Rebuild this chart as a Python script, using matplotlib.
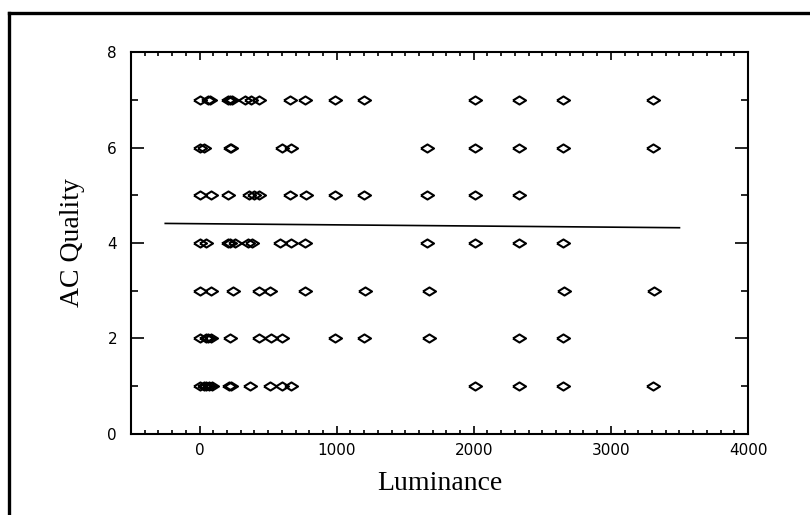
import numpy as np
import matplotlib
matplotlib.use('Agg')
import matplotlib.pyplot as plt
from matplotlib.lines import Line2D
from matplotlib.ticker import MultipleLocator

# Luminance values, one list per AC quality rating
lum_q7 = [0, 60, 75, 210, 225, 235, 335, 375, 430, 660, 770, 990, 1200, 2010, 2330, 2650, 3310]
lum_q6 = [0, 35, 220, 232, 600, 670, 1660, 2010, 2330, 2650, 3310]
lum_q5 = [0, 80, 210, 360, 395, 430, 660, 780, 990, 1200, 1660, 2010, 2330]
lum_q4 = [0, 45, 205, 225, 262, 350, 385, 590, 670, 770, 1660, 2010, 2330, 2650]
lum_q3 = [0, 80, 245, 430, 517, 772, 1204, 1670, 2655, 3315]
lum_q2 = [0, 45, 65, 80, 225, 430, 520, 600, 990, 1200, 1670, 2330, 2650]
lum_q1 = [0, 30, 50, 70, 90, 215, 232, 370, 517, 600, 670, 2010, 2330, 2650, 3310]

quality = [7, 6, 5, 4, 3, 2, 1]
lum_rows = [lum_q7, lum_q6, lum_q5, lum_q4, lum_q3, lum_q2, lum_q1]

# fitted line (nearly flat)
fit_x = [-250, 3500]
fit_y = [4.41, 4.32]

fig = plt.figure(figsize=(8.1, 5.15), dpi=100)
ax = fig.add_axes([0.1617, 0.1573, 0.7618, 0.7417])

# wide, flat open diamond
diamond = [(-1, 0), (0, 0.62), (1, 0), (0, -0.62), (-1, 0)]

for q, lums in zip(quality, lum_rows):
    ax.plot(lums, [q] * len(lums), linestyle='none', marker=diamond,
            markersize=9.4, markerfacecolor='none', markeredgecolor='black',
            markeredgewidth=1.5)

ax.plot(fit_x, fit_y, color='black', linewidth=1.2)

ax.set_xlim(-500, 4000)
ax.set_ylim(0, 8)
ax.xaxis.set_major_locator(MultipleLocator(1000))
ax.xaxis.set_minor_locator(MultipleLocator(100))
ax.yaxis.set_major_locator(MultipleLocator(2))
ax.yaxis.set_minor_locator(MultipleLocator(1))

ax.tick_params(axis='both', which='both', direction='in', top=True, right=True,
               color='black', width=1.2)
ax.tick_params(axis='x', which='major', length=5.5, pad=6.5, labelsize=11)
ax.tick_params(axis='x', which='minor', length=2.8)
ax.tick_params(axis='y', which='major', length=9.5, pad=10, labelsize=11)
ax.tick_params(axis='y', which='minor', length=5)

for sp in ax.spines.values():
    sp.set_linewidth(1.5)

ax.set_xlabel('Luminance', family='Liberation Serif', fontsize=20, labelpad=9)
ax.set_ylabel('AC Quality', family='Liberation Serif', fontsize=20, labelpad=16)

# thick border of the scanned figure (top and left edges visible)
fig.add_artist(Line2D([0.011, 1.0], [0.974, 0.974], transform=fig.transFigure,
                      color='black', linewidth=2.4))
fig.add_artist(Line2D([0.011, 0.011], [0.0, 0.974], transform=fig.transFigure,
                      color='black', linewidth=2.4))

fig.savefig('out.png', dpi=100)
